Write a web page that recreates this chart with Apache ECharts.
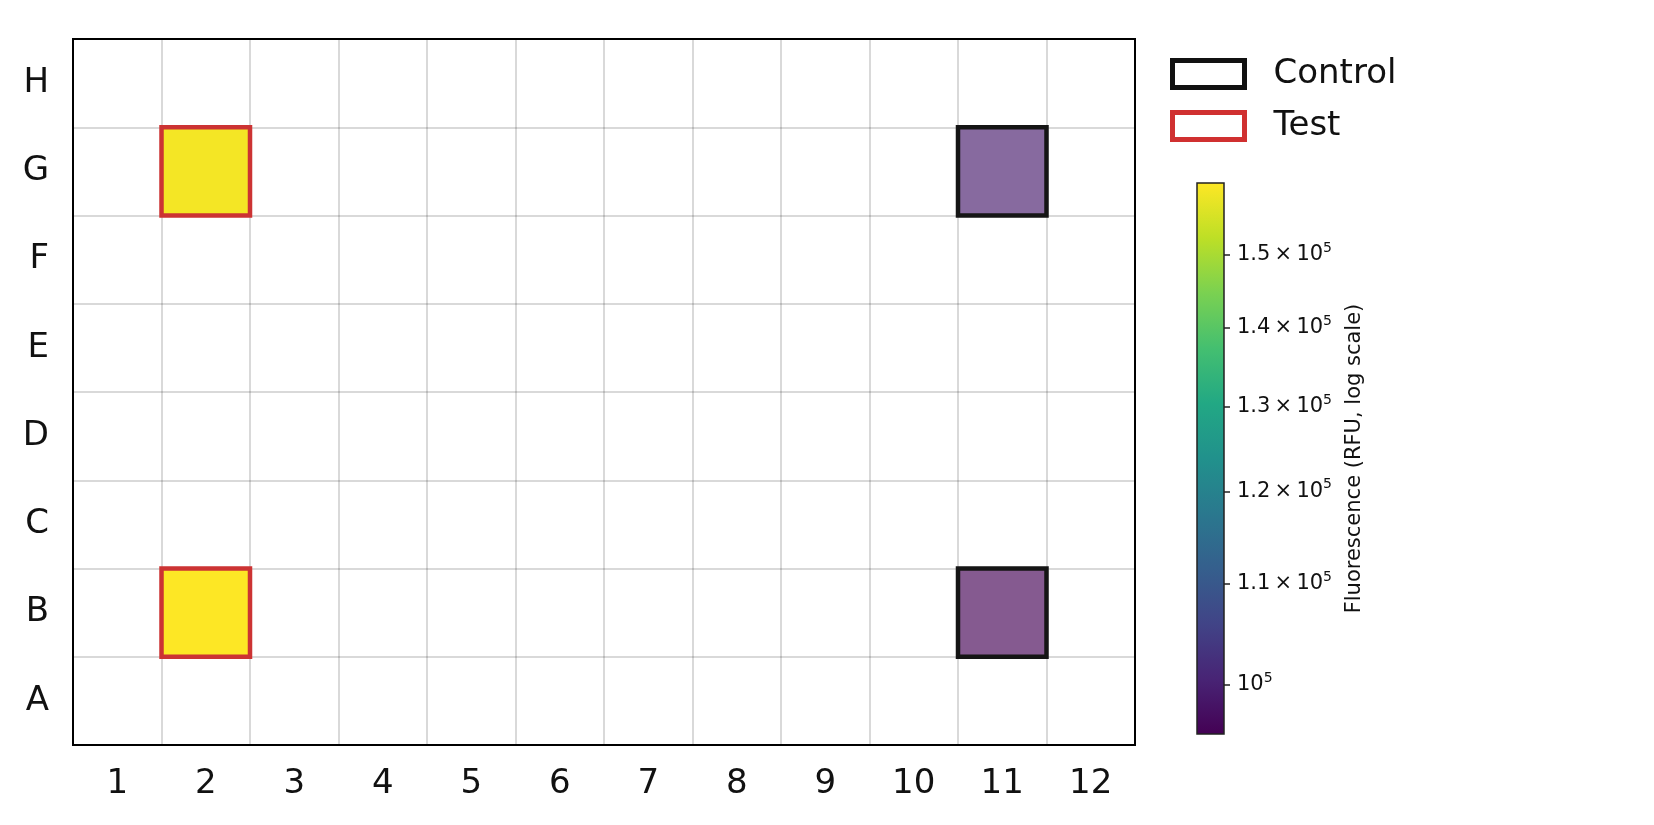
<!DOCTYPE html>
<html>
<head>
<meta charset="utf-8">
<script src="https://cdn.jsdelivr.net/npm/echarts@6/dist/echarts.min.js"></script>
<style>
  html, body { margin: 0; padding: 0; background: #fff; }
  #plate { width: 1654px; height: 825px; }
</style>
</head>
<body>
<div id="plate"></div>
<script>
// plate layout
const cols = ['1', '2', '3', '4', '5', '6', '7', '8', '9', '10', '11', '12']
const rows = ['A', 'B', 'C', 'D', 'E', 'F', 'G', 'H']

// wells: [column, row, RFU]
const controlWells = [['11', 'G', 99000], ['11', 'B', 95450]]
const testWells = [['2', 'G', 159300], ['2', 'B', 160500]]

// colorbar (log scale)
const cbMin = 95450
const cbMax = 160500
const cbTicks = [1.0e5, 1.1e5, 1.2e5, 1.3e5, 1.4e5, 1.5e5]
const cbTickLabels = ['{b|10}{s|5}', '{b|1.1\u2009×\u200910}{s|5}', '{b|1.2\u2009×\u200910}{s|5}', '{b|1.3\u2009×\u200910}{s|5}', '{b|1.4\u2009×\u200910}{s|5}', '{b|1.5\u2009×\u200910}{s|5}']

const viridis = ['#440154', '#482475', '#414487', '#355f8d', '#2a788e', '#21918c', '#22a884', '#44bf70', '#7ad151', '#bddf26', '#fde725']

const font = 'DejaVu Sans'

function toData (wells) {
  return wells.map(w => [cols.indexOf(w[0]), rows.indexOf(w[1]), Math.log10(w[2]), w[2]])
}

function wellRenderer (edge, alpha) {
  return function (params, api) {
    const c = api.coord([api.value(0), api.value(1)])
    const s = api.size([1, 1])
    return {
      type: 'rect',
      shape: { x: c[0] - s[0] / 2, y: c[1] - s[1] / 2, width: s[0], height: s[1] },
      style: {
        fill: echarts.color.modifyAlpha(api.visual('color'), alpha),
        stroke: edge,
        lineWidth: 4.5
      }
    }
  }
}

// colorbar strip drawn through the colorbar axis
function colorbarRenderer (params, api) {
  const top = api.coord([0, api.value(1)])
  const bottom = api.coord([1, api.value(0)])
  const stops = viridis.map((c, i) => ({ offset: i / (viridis.length - 1), color: c }))
  return {
    type: 'rect',
    shape: { x: top[0], y: top[1], width: bottom[0] - top[0], height: bottom[1] - top[1] },
    style: { fill: new echarts.graphic.LinearGradient(0, 1, 0, 0, stops) }
  }
}

let myChart = echarts.init(document.getElementById('plate'))
myChart.setOption({
  animation: false,
  textStyle: { fontFamily: font },
  legend: {
    orient: 'vertical',
    left: 1170,
    top: 57,
    padding: 0,
    itemWidth: 72,
    itemHeight: 27,
    itemGap: 18,
    textStyle: { fontSize: 34, color: '#111', fontFamily: font, padding: [0, 0, 0, 24] },
    data: [
      { name: 'Control', icon: 'rect', itemStyle: { color: '#fff', borderColor: '#111', borderWidth: 5 } },
      { name: 'Test', icon: 'rect', itemStyle: { color: '#fff', borderColor: '#d03030', borderWidth: 5 } }
    ]
  },
  visualMap: {
    type: 'continuous',
    show: false,
    seriesIndex: [0, 1],
    dimension: 2,
    min: Math.log10(cbMin),
    max: Math.log10(cbMax),
    inRange: { color: viridis }
  },
  grid: [
    { left: 73, top: 39, width: 1062, height: 706, show: true, borderColor: '#000', borderWidth: 2 },
    { left: 1197, top: 183, width: 27, height: 551, show: true, borderColor: '#222', borderWidth: 1.5, z: 10, backgroundColor: 'transparent' }
  ],
  xAxis: [
    {
      type: 'category',
      gridIndex: 0,
      data: cols,
      axisLine: { lineStyle: { color: '#000', width: 2 } },
      axisTick: { alignWithLabel: true, length: 10, lineStyle: { color: '#000', width: 2 } },
      axisLabel: { interval: 0, fontSize: 34, color: '#111', margin: 22 },
      splitLine: { show: true, interval: 0, lineStyle: { color: 'rgba(0,0,0,0.2)', width: 1.5 } }
    },
    { type: 'value', gridIndex: 1, min: 0, max: 1, show: false }
  ],
  yAxis: [
    {
      type: 'category',
      gridIndex: 0,
      data: rows,
      axisLine: { lineStyle: { color: '#000', width: 2 } },
      axisTick: { alignWithLabel: true, length: 10, lineStyle: { color: '#000', width: 2 } },
      axisLabel: { interval: 0, fontSize: 34, color: '#111', margin: 24 },
      splitLine: { show: true, interval: 0, lineStyle: { color: 'rgba(0,0,0,0.2)', width: 1.5 } }
    },
    {
      type: 'value',
      gridIndex: 1,
      position: 'right',
      min: Math.log10(cbMin),
      max: Math.log10(cbMax),
      name: 'Fluorescence (RFU, log scale)',
      nameLocation: 'middle',
      nameRotate: 90,
      nameGap: 120,
      nameTextStyle: { fontSize: 21, color: '#111', fontFamily: font },
      axisLine: { show: false, onZero: false },
      splitLine: { show: false },
      axisTick: {
        show: true,
        length: 6,
        customValues: cbTicks.map(t => Math.log10(t)),
        lineStyle: { color: '#222', width: 1.5 }
      },
      axisLabel: {
        margin: 13,
        customValues: cbTicks.map(t => Math.log10(t)),
        formatter: function (val) {
          const i = cbTicks.findIndex(t => Math.abs(Math.log10(t) - val) < 1e-6)
          return i >= 0 ? cbTickLabels[i] : ''
        },
        rich: {
          b: { fontSize: 21, color: '#111', fontFamily: font },
          s: { fontSize: 14, color: '#111', fontFamily: font, padding: [0, 0, 13, 0] }
        }
      }
    }
  ],
  series: [
    {
      name: 'Control',
      type: 'custom',
      xAxisIndex: 0,
      yAxisIndex: 0,
      renderItem: wellRenderer('#151515', 0.65),
      data: toData(controlWells),
      z: 5
    },
    {
      name: 'Test',
      type: 'custom',
      xAxisIndex: 0,
      yAxisIndex: 0,
      renderItem: wellRenderer('#cc3333', 1),
      data: toData(testWells),
      z: 5
    },
    {
      name: 'colorbar',
      type: 'custom',
      xAxisIndex: 1,
      yAxisIndex: 1,
      renderItem: colorbarRenderer,
      data: [[Math.log10(cbMin), Math.log10(cbMax)]],
      z: 1
    }
  ]
})
</script>
</body>
</html>
